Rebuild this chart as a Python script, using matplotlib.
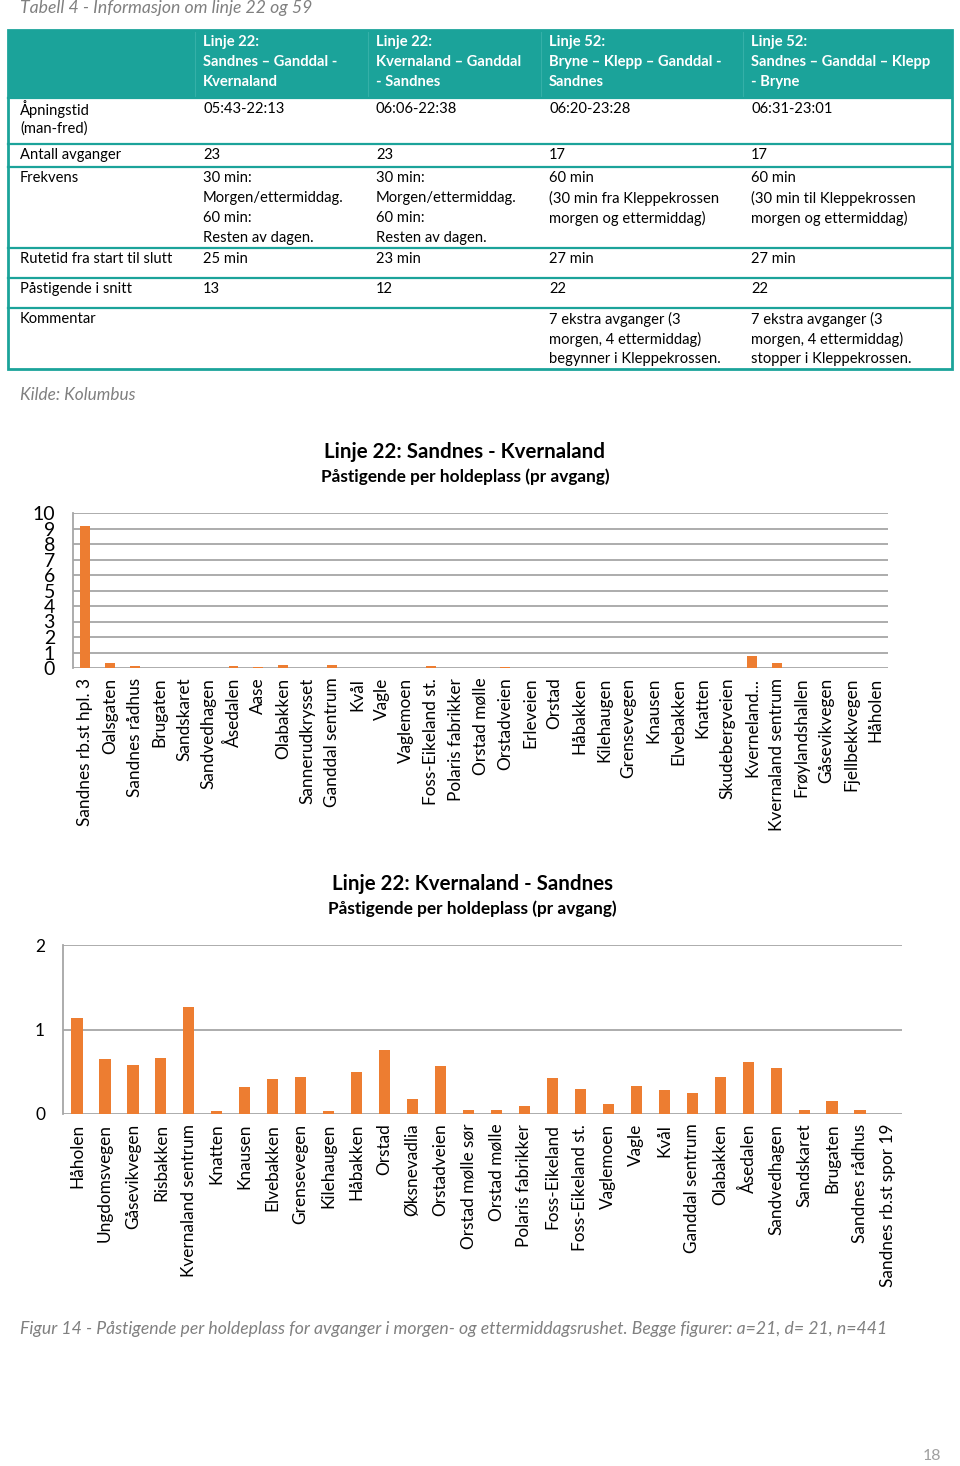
import matplotlib
matplotlib.use("Agg")
import matplotlib.pyplot as plt
from matplotlib.patches import Rectangle
from matplotlib.lines import Line2D

W, H = 960, 1466
FONT = ["Lato", "DejaVu Sans"]
plt.rcParams['font.family'] = FONT

TEAL = "#1BA39A"
ORANGE = "#ED7D31"
GREY_TXT = "#808080"
GRID = "#A6A6A6"

# ---------------- data ----------------
table_title = "Tabell 4 - Informasjon om linje 22 og 59"
header_cols = [
    "Linje 22:\nSandnes \u2013 Ganddal -\nKvernaland",
    "Linje 22:\nKvernaland \u2013 Ganddal\n- Sandnes",
    "Linje 52:\nBryne \u2013 Klepp \u2013 Ganddal -\nSandnes",
    "Linje 52:\nSandnes \u2013 Ganddal \u2013 Klepp\n- Bryne",
]
row_labels = ["\u00c5pningstid\n(man-fred)", "Antall avganger", "Frekvens",
              "Rutetid fra start til slutt", "P\u00e5stigende i snitt", "Kommentar"]
row_opening = ["05:43-22:13", "06:06-22:38", "06:20-23:28", "06:31-23:01"]
row_departures = ["23", "23", "17", "17"]
row_frequency = ["30 min:\nMorgen/ettermiddag.\n60 min:\nResten av dagen.",
                 "30 min:\nMorgen/ettermiddag.\n60 min:\nResten av dagen.",
                 "60 min\n(30 min fra Kleppekrossen\nmorgen og ettermiddag)",
                 "60 min\n(30 min til Kleppekrossen\nmorgen og ettermiddag)"]
row_traveltime = ["25 min", "23 min", "27 min", "27 min"]
row_boarding = ["13", "12", "22", "22"]
row_comment = ["", "",
               "7 ekstra avganger (3\nmorgen, 4 ettermiddag)\nbegynner i Kleppekrossen.",
               "7 ekstra avganger (3\nmorgen, 4 ettermiddag)\nstopper i Kleppekrossen."]
source_text = "Kilde: Kolumbus"

chart1_title = "Linje 22: Sandnes - Kvernaland"
chart1_subtitle = "P\u00e5stigende per holdeplass (pr avgang)"
chart1_stops = ["Sandnes rb.st hpl. 3", "Oalsgaten", "Sandnes r\u00e5dhus", "Brugaten",
                "Sandskaret", "Sandvedhagen", "\u00c5sedalen", "Aase", "Olabakken",
                "Sannerudkrysset", "Ganddal sentrum", "Kv\u00e5l", "Vagle", "Vaglemoen",
                "Foss-Eikeland st.", "Polaris fabrikker", "Orstad m\u00f8lle", "Orstadveien",
                "Erleveien", "Orstad", "H\u00e5bakken", "Kilehaugen", "Grensevegen",
                "Knausen", "Elvebakken", "Knatten", "Skudebergveien", "Kverneland...",
                "Kvernaland sentrum", "Fr\u00f8ylandshallen", "G\u00e5sevikvegen",
                "Fjellbekkvegen", "H\u00e5holen"]
chart1_values = [9.13, 0.30, 0.12, 0.0, 0.0, 0.02, 0.12, 0.05, 0.20, 0.02, 0.20,
                 0.0, 0.0, 0.0, 0.10, 0.0, 0.0, 0.08, 0.0, 0.0, 0.0, 0.0, 0.0,
                 0.0, 0.02, 0.02, 0.0, 0.78, 0.33, 0.0, 0.03, 0.02, 0.0]
chart1_yticks = list(range(0, 11))

chart2_title = "Linje 22: Kvernaland - Sandnes"
chart2_subtitle = "P\u00e5stigende per holdeplass (pr avgang)"
chart2_stops = ["H\u00e5holen", "Ungdomsvegen", "G\u00e5sevikvegen", "Risbakken",
                "Kvernaland sentrum", "Knatten", "Knausen", "Elvebakken", "Grensevegen",
                "Kilehaugen", "H\u00e5bakken", "Orstad", "\u00d8ksnevadlia", "Orstadveien",
                "Orstad m\u00f8lle s\u00f8r", "Orstad m\u00f8lle", "Polaris fabrikker",
                "Foss-Eikeland", "Foss-Eikeland st.", "Vaglemoen", "Vagle", "Kv\u00e5l",
                "Ganddal sentrum", "Olabakken", "\u00c5sedalen", "Sandvedhagen",
                "Sandskaret", "Brugaten", "Sandnes r\u00e5dhus", "Sandnes rb.st spor 19"]
chart2_values = [1.14, 0.65, 0.58, 0.66, 1.27, 0.03, 0.32, 0.41, 0.44, 0.03, 0.50,
                 0.76, 0.18, 0.57, 0.05, 0.05, 0.09, 0.43, 0.29, 0.12, 0.33, 0.28,
                 0.25, 0.44, 0.61, 0.54, 0.05, 0.15, 0.05, 0.0]
chart2_yticks = [0, 1, 2]

caption = ("Figur 14 - P\u00e5stigende per holdeplass for avganger i morgen- og "
           "ettermiddagsrushet. Begge figurer: a=21, d= 21, n=441")
page_no = "18"

# ---------------- helpers ----------------
fig = plt.figure(figsize=(W / 100, H / 100), dpi=100)
fig.patch.set_facecolor("white")


def fx(x):
    return x / W


def fy(y):
    return 1 - y / H


def T(x, y, s, **kw):
    kw.setdefault("va", "center")
    kw.setdefault("ha", "left")
    return fig.text(fx(x), fy(y), s, **kw)


def rect(l, t, r, b):
    return [l / W, 1 - b / H, (r - l) / W, (b - t) / H]


# ---------------- table ----------------
T(20, 8, table_title, fontsize=12.7, style="italic", color=GREY_TXT)

tl, tr = 8, 952
col_x = [20, 203, 376, 549, 751]
row_edges = [30, 98, 144, 167, 248, 278, 308, 369]

fig.patches.append(Rectangle((fx(tl), fy(row_edges[1])), fx(tr) - fx(tl),
                             fy(row_edges[0]) - fy(row_edges[1]),
                             transform=fig.transFigure, facecolor=TEAL,
                             edgecolor="none", zorder=1))
for cx in col_x[1:]:
    fig.add_artist(Line2D([fx(cx - 8)] * 2, [fy(32), fy(96)], color="#35B0A8",
                          lw=0.8, transform=fig.transFigure, zorder=2))
for ye in row_edges[1:-1]:
    fig.add_artist(Line2D([fx(tl), fx(tr)], [fy(ye)] * 2, color=TEAL, lw=1.6,
                          transform=fig.transFigure, zorder=2))
fig.patches.append(Rectangle((fx(tl), fy(row_edges[-1])), fx(tr) - fx(tl),
                             fy(row_edges[0]) - fy(row_edges[-1]),
                             transform=fig.transFigure, facecolor="none",
                             edgecolor=TEAL, lw=2.0, zorder=3))

LINE_H = 20  # px between text lines


def multiline(x, y_first, s, **kw):
    for k, line in enumerate(s.split("\n")):
        T(x, y_first + k * LINE_H, line, **kw)


for i, h in enumerate(header_cols):
    multiline(col_x[i + 1], 42, h, fontsize=10.6, weight="bold", color="white")

rows = [row_opening, row_departures, row_frequency, row_traveltime,
        row_boarding, row_comment]
for r, (lab, vals) in enumerate(zip(row_labels, rows)):
    yc = row_edges[r + 1] + 11
    multiline(col_x[0], yc, lab, fontsize=10.6)
    for c, v in enumerate(vals):
        if v:
            multiline(col_x[c + 1], yc, v, fontsize=10.6)

T(20, 395, source_text, fontsize=12.4, style="italic", color=GREY_TXT)


# ---------------- charts ----------------
def bar_chart(box, stops, values, yticks, ylab_x, tick_fs, title, subtitle,
              title_x, title_y):
    ax = fig.add_axes(rect(*box))
    x = list(range(len(stops)))
    ax.bar(x, values, width=0.4, color=ORANGE, zorder=3)
    ax.set_xlim(-0.5, len(stops) - 0.5)
    ax.set_ylim(yticks[0], yticks[-1])
    ax.set_yticks(yticks)
    ax.yaxis.grid(True, color=GRID, lw=1.3, zorder=0)
    ax.set_axisbelow(True)
    for s in ["top", "right", "bottom"]:
        ax.spines[s].set_visible(False)
    ax.spines["left"].set_color(GRID)
    ax.spines["left"].set_linewidth(1.3)
    ax.tick_params(axis="y", length=0, labelsize=tick_fs,
                   pad=(box[0] - ylab_x) * 0.72)
    ax.tick_params(axis="x", length=0, pad=7)
    ax.set_xticks(x)
    ax.set_xticklabels(stops, rotation=90, fontsize=12.4, va="top", ha="center")
    ax.set_facecolor("none")
    T(title_x, title_y, title, fontsize=14.8, weight="bold", ha="center")
    T(title_x, title_y + 25, subtitle, fontsize=12.4, weight="bold", ha="center")
    return ax


ax1 = bar_chart((73, 513, 888, 668), chart1_stops, chart1_values, chart1_yticks,
                55, 14, chart1_title, chart1_subtitle, 465, 452)

ax2 = bar_chart((63, 945, 902, 1114), chart2_stops, chart2_values, chart2_yticks,
                45, 12.5, chart2_title, chart2_subtitle, 472, 884)

T(20, 1329, caption, fontsize=12.7, style="italic", color=GREY_TXT)
T(941, 1456, page_no, fontsize=11.5, color="#A0A0A0", ha="right")

fig.savefig("out.png", dpi=100, facecolor="white")
